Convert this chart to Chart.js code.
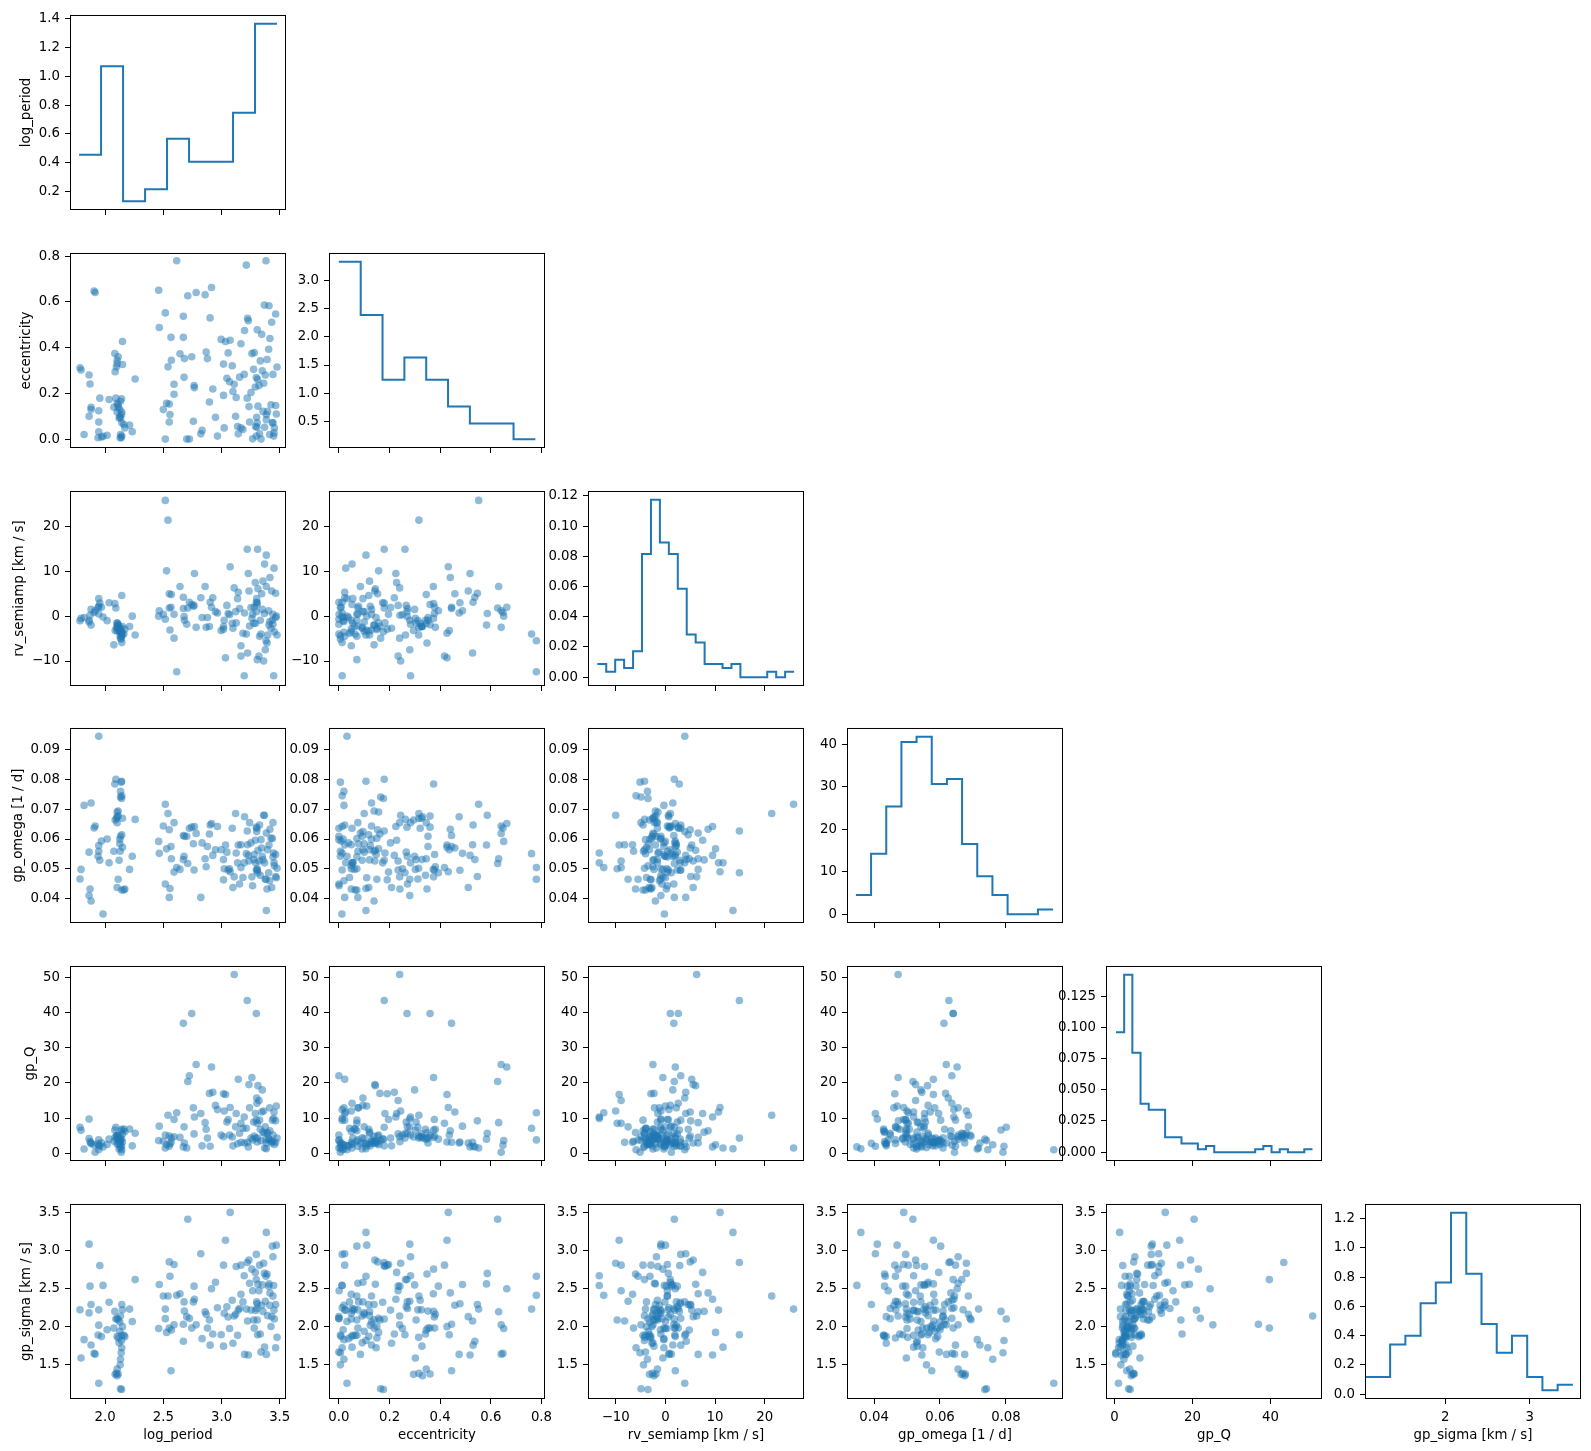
<!DOCTYPE html>
<html>
<head>
<meta charset="utf-8">
<script src="https://cdn.jsdelivr.net/npm/chart.js@4.4.0/dist/chart.umd.min.js"></script>
<style>
  body { margin: 0; background: #fff; }
  #fig { position: relative; width: 1591px; height: 1451px; overflow: hidden; }
  #fig canvas { position: absolute; }
</style>
</head>
<body>
<div id="fig"></div>
<script>
// posterior samples, one entry per draw
const logPeriod = [
  1.784, 1.793, 1.819, 1.862, 1.862, 1.870, 1.879, 1.879, 1.905, 1.914,
  1.945, 1.954, 1.945, 1.945, 1.939, 1.968, 1.982, 2.017, 2.034, 2.083,
  2.092, 2.103, 2.112, 2.086, 2.097, 2.103, 2.112, 2.103, 2.132, 2.141,
  2.143, 2.149, 2.132, 2.126, 2.126, 2.149, 2.143, 2.161, 2.169, 2.141,
  2.143, 2.138, 2.132, 2.129, 2.103, 2.075, 2.210, 2.233, 2.258, 2.120,
  2.112,
  2.460, 2.465, 2.500, 2.517, 2.517, 2.528, 2.551, 2.540, 2.557, 2.551,
  2.566, 2.569, 2.592, 2.592, 2.615, 2.643, 2.672, 2.672, 2.678, 2.681,
  2.710, 2.701, 2.724, 2.744, 2.758, 2.767, 2.764, 2.782, 2.822, 2.833,
  2.859, 2.868, 2.879, 2.896, 2.902, 2.914, 2.925, 2.948, 2.965, 2.997,
  3.017, 3.017, 3.034, 3.023, 3.046, 3.057, 3.069, 3.074, 3.092, 3.098,
  3.109, 3.121, 3.126, 3.138, 3.144, 3.155, 3.167, 3.167, 3.184, 3.195,
  3.198, 3.213, 3.221, 3.224, 3.230, 3.236, 3.241, 3.253, 3.261, 3.267,
  3.276, 3.281, 3.290, 3.293, 3.299, 3.299, 3.302, 3.304, 3.307, 3.310,
  3.313, 3.322, 3.327, 3.333, 3.339, 3.345, 3.350, 3.362, 3.368, 3.370,
  3.376, 3.385, 3.385, 3.391, 3.396, 3.405, 3.416, 3.425, 3.431, 3.437,
  3.442, 3.448, 3.451, 3.465, 3.465, 3.471, 3.477,
  3.382, 3.414, 3.442, 3.454, 3.356, 3.307, 3.408
];
const eccentricity = [
  0.312, 0.302, 0.020, 0.280, 0.100, 0.241, 0.139, 0.129, 0.648, 0.641,
  0.075, 0.179, 0.124, 0.032, 0.006, 0.009, 0.012, 0.017, 0.173, 0.374,
  0.179, 0.157, 0.139, 0.295, 0.316, 0.330, 0.360, 0.345, 0.165, 0.176,
  0.118, 0.326, 0.092, 0.129, 0.100, 0.427, 0.071, 0.064, 0.049, 0.107,
  0.013, 0.006, 0.020, 0.006, 0.118, 0.139, 0.061, 0.032, 0.263, 0.092,
  0.150,
  0.651, 0.488, 0.129, 0.000, 0.552, 0.157, 0.153, 0.316, 0.107, 0.075,
  0.445, 0.345, 0.240, 0.196, 0.780, 0.373, 0.445, 0.537, 0.270, 0.352,
  0.627, 0.000, 0.000, 0.360, 0.078, 0.225, 0.234, 0.641, 0.023, 0.038,
  0.631, 0.381, 0.352, 0.162, 0.530, 0.663, 0.219, 0.095, 0.013, 0.436,
  0.191, 0.328, 0.427, 0.049, 0.266, 0.377, 0.251, 0.432, 0.321, 0.208,
  0.240, 0.100, 0.182, 0.055, 0.023, 0.271, 0.049, 0.417, 0.042, 0.283,
  0.475, 0.761, 0.179, 0.528, 0.518, 0.142, 0.075, 0.204, 0.374, 0.001,
  0.305, 0.378, 0.228, 0.055, 0.013, 0.269, 0.095, 0.052, 0.071, 0.261,
  0.144, 0.234, 0.023, 0.342, 0.000, 0.458, 0.299, 0.244, 0.586, 0.052,
  0.280, 0.107, 0.085, 0.348, 0.121, 0.393, 0.440, 0.150, 0.511, 0.071,
  0.283, 0.013, 0.027, 0.547, 0.147, 0.110, 0.315,
  0.780, 0.020, 0.071, 0.049, 0.121, 0.478, 0.583
];
const rvSemiamp = [
  -1.0, -0.5, -0.3, -0.9, -1.3, 0.2, -2.0, 1.5, 0.8, 1.2,
  0.5, 2.9, 2.2, 3.9, 1.9, 2.0, -0.2, -1.0, 3.0, 2.8,
  1.8, -1.5, -2.0, -3.2, -2.6, -2.3, -1.9, -1.6, -4.9, -3.5,
  4.6, -2.3, -2.7, -3.1, -3.4, -3.8, -4.5, -4.0, -2.9, -4.2,
  -5.9, -5.1, -3.6, -4.4, -3.3, -6.4, -2.3, 0.0, -4.2, -2.5,
  -3.0,
  0.0, 1.2, 0.4, -0.7, 25.8, 10.1, 5.0, 21.4, -3.1, 1.8,
  2.0, 4.8, -4.9, 0.4, -12.4, 6.6, 1.7, 4.2, -0.1, -0.9,
  1.8, -1.8, 3.1, 2.6, 2.2, 9.5, 2.4, -2.5, 4.1, -0.3,
  6.6, -2.5, -0.3, -2.3, 3.1, 2.0, 4.1, 1.0, 0.7, -3.2,
  -2.9, -2.3, -9.3, -0.9, 2.4, 0.6, 0.3, 11.0, -1.6, -2.7,
  6.3, 1.0, -1.5, 3.9, 5.3, 1.7, -6.6, -8.9, -3.8, -13.3,
  0.7, -4.0, 14.9, -8.2, 9.5, 5.6, -2.2, 1.9, -0.5, 0.4,
  -1.6, 2.0, 7.5, -1.6, 3.1, 1.0, 3.9, 2.6, -9.7, 14.9,
  6.1, -8.9, -4.5, -0.9, -4.0, 5.0, 1.5, -10.0, 0.6, 11.6,
  -7.5, 13.6, 6.6, -6.0, -4.2, 1.2, 8.6, -2.7, 5.6, -0.9,
  -1.8, -13.3, 10.7, 5.1, -0.3, 0.0, -4.2,
  -5.5, -1.2, 0.4, -3.5, 7.8, 3.0, -2.0
];
const gpOmega = [
  0.0466, 0.0498, 0.0713, 0.0410, 0.0556, 0.0432, 0.0392, 0.0721, 0.0637, 0.0644,
  0.0559, 0.0529, 0.0578, 0.0945, 0.0542, 0.0593, 0.0348, 0.0600, 0.0520, 0.0785,
  0.0801, 0.0691, 0.0694, 0.0664, 0.0669, 0.0675, 0.0677, 0.0655, 0.0741, 0.0736,
  0.0614, 0.0670, 0.0609, 0.0599, 0.0584, 0.0572, 0.0429, 0.0429, 0.0432, 0.0794,
  0.0745, 0.0791, 0.0760, 0.0559, 0.0437, 0.0559, 0.0498, 0.0542, 0.0666, 0.0529,
  0.0465,
  0.0592, 0.0552, 0.0644, 0.0449, 0.0717, 0.0567, 0.0631, 0.0686, 0.0434, 0.0404,
  0.0575, 0.0534, 0.0655, 0.0489, 0.0504, 0.0498, 0.0612, 0.0531, 0.0542, 0.0609,
  0.0518, 0.0609, 0.0636, 0.0640, 0.0584, 0.0642, 0.0496, 0.0619, 0.0404, 0.0587,
  0.0534, 0.0507, 0.0575, 0.0617, 0.0647, 0.0652, 0.0545, 0.0564, 0.0642, 0.0564,
  0.0463, 0.0531, 0.0580, 0.0500, 0.0556, 0.0496, 0.0500, 0.0490, 0.0636, 0.0437,
  0.0473, 0.0686, 0.0553, 0.0520, 0.0580, 0.0449, 0.0581, 0.0504, 0.0471, 0.0520,
  0.0675, 0.0551, 0.0627, 0.0581, 0.0545, 0.0526, 0.0655, 0.0587, 0.0473, 0.0443,
  0.0531, 0.0548, 0.0596, 0.0520, 0.0496, 0.0640, 0.0625, 0.0636, 0.0500, 0.0487,
  0.0562, 0.0526, 0.0647, 0.0478, 0.0598, 0.0570, 0.0542, 0.0680, 0.0680, 0.0520,
  0.0465, 0.0360, 0.0620, 0.0432, 0.0564, 0.0487, 0.0633, 0.0603, 0.0437, 0.0602,
  0.0655, 0.0553, 0.0520, 0.0474, 0.0548, 0.0470, 0.0502,
  0.0465, 0.0460, 0.0540, 0.0510, 0.0530, 0.0495, 0.0580
];
const gpQ = [
  7.4, 6.5, 1.2, 9.7, 4.2, 3.3, 2.8, 2.9, 2.3, 0.3,
  3.8, 2.1, 2.1, 1.0, 2.7, 3.0, 1.8, 2.5, 4.0, 6.6,
  7.4, 5.2, 4.8, 4.6, 4.9, 4.3, 5.0, 3.9, 3.6, 4.0,
  6.8, 5.5, 4.4, 3.8, 2.9, 3.2, 6.4, 6.9, 6.2, 2.0,
  1.0, 0.3, 2.4, 1.6, 2.6, 3.4, 6.9, 2.1, 5.7, 1.2,
  2.8,
  3.6, 7.7, 3.4, 5.2, 1.5, 2.4, 4.9, 10.8, 2.7, 2.0,
  3.1, 4.3, 4.7, 9.6, 11.5, 4.5, 36.9, 1.8, 7.5, 2.9,
  20.4, 1.5, 22.0, 39.7, 12.9, 10.3, 5.5, 25.2, 11.3, 2.1,
  8.7, 6.8, 4.3, 17.0, 2.0, 24.5, 17.3, 13.6, 12.4, 5.2,
  16.9, 4.7, 16.7, 12.0, 8.9, 9.6, 5.2, 13.0, 4.6, 2.1,
  50.8, 7.5, 11.3, 2.7, 21.0, 5.7, 3.1, 8.5, 7.1, 10.3,
  2.9, 7.1, 43.4, 3.1, 1.8, 19.5, 12.9, 4.3, 21.5, 3.8,
  8.9, 4.9, 11.3, 4.3, 9.4, 39.7, 15.7, 14.2, 8.5, 4.3,
  19.2, 15.0, 9.4, 6.8, 3.6, 11.7, 18.0, 12.0, 5.7, 1.5,
  7.5, 1.3, 2.9, 5.9, 5.7, 4.0, 6.4, 3.4, 2.9, 9.4,
  5.2, 9.9, 11.7, 9.2, 3.1, 13.4, 4.3,
  3.8, 12.9, 3.4, 2.5, 6.0, 3.2, 4.0
];
const gpSigma = [
  2.22, 1.59, 1.83, 3.08, 2.18, 2.53, 2.29, 1.76, 1.65, 1.64,
  2.22, 2.80, 2.02, 1.26, 1.89, 1.87, 2.54, 1.96, 2.32, 2.20,
  2.10, 2.11, 2.09, 1.376, 1.388, 1.358, 1.380, 1.444, 1.187, 1.178,
  2.29, 2.22, 2.14, 2.06, 1.94, 2.00, 1.886, 1.886, 1.869, 1.818,
  1.723, 1.659, 1.573, 1.500, 1.873, 1.981, 2.230, 2.067, 2.616, 1.788,
  1.852,
  1.976, 2.552, 2.401, 2.105, 2.230, 1.925, 2.848, 2.401, 2.659, 1.981,
  1.423, 1.955, 2.024, 2.813, 2.410, 2.431, 2.032, 1.809, 2.324, 2.204,
  3.406, 2.131, 2.109, 1.981, 2.324, 2.358, 2.530, 2.024, 2.955, 1.843,
  2.195, 2.161, 1.981, 2.088, 1.758, 2.496, 1.903, 2.582, 2.247, 1.895,
  2.805, 1.745, 3.131, 2.174, 2.260, 2.127, 1.976, 3.496, 2.345, 1.783,
  2.140, 2.161, 2.788, 1.886, 2.217, 2.238, 2.423, 2.805, 2.324, 2.667,
  1.637, 2.230, 2.839, 2.075, 1.629, 2.873, 2.569, 2.217, 2.753, 2.470,
  2.088, 1.981, 2.710, 2.212, 2.946, 2.616, 2.324, 2.238, 2.088, 1.895,
  2.556, 2.470, 2.805, 1.903, 1.667, 2.281, 2.547, 2.831, 2.697, 1.732,
  2.333, 3.234, 1.637, 2.689, 2.144, 2.530, 2.442, 2.002, 2.131, 3.054,
  2.916, 2.539, 2.217, 2.290, 1.723, 3.067, 1.860,
  2.660, 2.280, 2.400, 2.100, 2.200, 2.300, 2.560
];

// marginal histograms (bin edges + density)
const logPeriodHistEdges = [1.776, 1.965, 2.154, 2.343, 2.532, 2.721, 2.910, 3.099, 3.288, 3.477];
const logPeriodHistDensity = [0.455, 1.070, 0.134, 0.216, 0.566, 0.407, 0.407, 0.748, 1.364];
const eccHistEdges = [0, 0.0862, 0.1724, 0.2587, 0.3449, 0.4311, 0.5173, 0.6036, 0.6898, 0.776];
const eccHistDensity = [3.324, 2.386, 1.239, 1.633, 1.239, 0.769, 0.468, 0.468, 0.19];
const rvHistEdges = [-13.7, -11.9, -10.1, -8.3, -6.5, -4.7, -2.9, -1.1, 0.7, 2.5, 4.3, 6.1,
  7.9, 9.7, 11.5, 13.3, 15.1, 16.9, 18.7, 20.5, 22.3, 24.1, 25.9];
const rvHistDensity = [0.0087, 0.0035, 0.0115, 0.0061, 0.0171, 0.0816, 0.1174, 0.0892, 0.0816,
  0.0586, 0.0282, 0.023, 0.0087, 0.0087, 0.0061, 0.0087, 0, 0, 0, 0.0035, 0, 0.0035];
const omegaHistEdges = [0.0345, 0.0391, 0.0437, 0.0483, 0.0529, 0.0575, 0.0621, 0.0667,
  0.0713, 0.0759, 0.0805, 0.0851, 0.0897, 0.0943];
const omegaHistDensity = [4.5, 14.2, 25.3, 40.5, 41.7, 30.6, 31.8, 16.5, 8.9, 4.5, 0, 0, 1.1];
const qHistEdges = [0.36, 2.46, 4.56, 6.66, 8.76, 10.86, 12.96, 15.06, 17.16, 19.26, 21.36, 23.46,
  25.56, 27.66, 29.76, 31.86, 33.96, 36.06, 38.16, 40.26, 42.36, 44.46, 46.56, 48.66, 50.76];
const qHistDensity = [0.096, 0.142, 0.0796, 0.0388, 0.034, 0.034, 0.012, 0.012, 0.007, 0.007,
  0.0024, 0.005, 0, 0, 0, 0, 0, 0.0024, 0.005, 0, 0.0024, 0, 0, 0.0024];
const sigmaHistEdges = [1.0, 1.35, 1.53, 1.71, 1.89, 2.07, 2.25, 2.43, 2.61, 2.79, 2.97, 3.15, 3.33, 3.51];
const sigmaHistDensity = [0.117, 0.339, 0.399, 0.621, 0.763, 1.240, 0.823, 0.480, 0.283, 0.399, 0.117, 0.027, 0.063];

// axis limits and ticks
const logPeriodLimits = [1.698, 3.554];
const eccLimits = [-0.039, 0.814];
const rvLimits = [-15.57, 27.9];
const omegaLimits = [0.0318, 0.0973];
const qLimits = [-2.2, 53.2];
const sigmaLimits = [1.053, 3.606];

const logPeriodTicks = [2.0, 2.5, 3.0, 3.5];
const eccTicks = [0, 0.2, 0.4, 0.6, 0.8];
const rvTicks = [-10, 0, 10, 20];
const omegaXTicks = [0.04, 0.06, 0.08];
const omegaYTicks = [0.04, 0.05, 0.06, 0.07, 0.08, 0.09];
const qXTicks = [0, 20, 40];
const qYTicks = [0, 10, 20, 30, 40, 50];
const sigmaXTicks = [2, 3];
const sigmaYTicks = [1.5, 2.0, 2.5, 3.0, 3.5];

const logPeriodHistTicks = [0.2, 0.4, 0.6, 0.8, 1.0, 1.2, 1.4];
const eccHistTicks = [0.5, 1.0, 1.5, 2.0, 2.5, 3.0];
const rvHistTicks = [0, 0.02, 0.04, 0.06, 0.08, 0.10, 0.12];
const omegaHistTicks = [0, 10, 20, 30, 40];
const qHistTicks = [0, 0.025, 0.05, 0.075, 0.1, 0.125];
const sigmaHistTicks = [0, 0.2, 0.4, 0.6, 0.8, 1.0, 1.2];

const fmt = d => v => v.toFixed(d).replace('-', '\u2212');

const params = [
  { label: 'log_period', values: logPeriod, lim: logPeriodLimits,
    xTicks: logPeriodTicks, xFmt: fmt(1), yTicks: logPeriodTicks, yFmt: fmt(1), titlePad: 18.6,
    hist: { edges: logPeriodHistEdges, dens: logPeriodHistDensity, ticks: logPeriodHistTicks, fmt: fmt(1) } },
  { label: 'eccentricity', values: eccentricity, lim: eccLimits,
    xTicks: eccTicks, xFmt: fmt(1), yTicks: eccTicks, yFmt: fmt(1), titlePad: 18.6,
    hist: { edges: eccHistEdges, dens: eccHistDensity, ticks: eccHistTicks, fmt: fmt(1) } },
  { label: 'rv_semiamp [km / s]', values: rvSemiamp, lim: rvLimits,
    xTicks: rvTicks, xFmt: fmt(0), yTicks: rvTicks, yFmt: fmt(0), titlePad: 11.7,
    hist: { edges: rvHistEdges, dens: rvHistDensity, ticks: rvHistTicks, fmt: fmt(2) } },
  { label: 'gp_omega [1 / d]', values: gpOmega, lim: omegaLimits,
    xTicks: omegaXTicks, xFmt: fmt(2), yTicks: omegaYTicks, yFmt: fmt(2), titlePad: 10.2,
    hist: { edges: omegaHistEdges, dens: omegaHistDensity, ticks: omegaHistTicks, fmt: fmt(0) } },
  { label: 'gp_Q', values: gpQ, lim: qLimits,
    xTicks: qXTicks, xFmt: fmt(0), yTicks: qYTicks, yFmt: fmt(0), titlePad: 22.9,
    hist: { edges: qHistEdges, dens: qHistDensity, ticks: qHistTicks, fmt: fmt(3) } },
  { label: 'gp_sigma [km / s]', values: gpSigma, lim: sigmaLimits,
    xTicks: sigmaXTicks, xFmt: fmt(0), yTicks: sigmaYTicks, yFmt: fmt(1), titlePad: 18.6,
    hist: { edges: sigmaHistEdges, dens: sigmaHistDensity, ticks: sigmaHistTicks, fmt: fmt(1) } }
];

// layout of the grid (pixels)
const colLeft = [70, 329, 588, 847, 1106, 1365];
const rowTop = [12, 250, 488, 725, 963, 1201];
const PW = 216, PH = 198, YAXIS_W = 70, PAD_T = 10, PAD_R = 14;
const XAXIS_H = 14, XAXIS_H_BOTTOM = 52;

const FONT = { family: 'DejaVu Sans', size: 13.3 };
const BLUE = '#1f77b4';
const DOT = 'rgba(31, 119, 180, 0.5)';

Chart.defaults.font.family = FONT.family;
Chart.defaults.font.size = FONT.size;
Chart.defaults.color = '#000';

// black box around every panel
const framePlugin = {
  id: 'frame',
  afterDraw(chart) {
    const { ctx, chartArea: a } = chart;
    ctx.save();
    ctx.strokeStyle = '#000';
    ctx.lineWidth = 1;
    ctx.strokeRect(a.left + 0.5, a.top + 0.5, a.right - a.left - 1, a.bottom - a.top - 1);
    ctx.restore();
  }
};
Chart.register(framePlugin);

function makeAxis(pos, lim, ticks, format, showLabels, size, title, titlePad) {
  const isX = pos === 'bottom';
  return {
    type: 'linear',
    position: pos,
    min: lim[0],
    max: lim[1],
    afterBuildTicks: s => { s.ticks = ticks.map(v => ({ value: v })); },
    afterFit: s => { if (isX) s.height = size; else s.width = size; },
    ticks: {
      autoSkip: false, maxRotation: 0, minRotation: 0, padding: isX ? 6 : 5,
      color: '#000', font: FONT,
      callback: v => showLabels ? format(v) : ''
    },
    grid: {
      display: true, drawOnChartArea: false, drawTicks: true, tickLength: 5,
      color: '#000', tickColor: '#000', tickWidth: 1, lineWidth: 1
    },
    border: { display: false },
    title: title
      ? { display: true, text: title, color: '#000', font: FONT,
          padding: isX ? { top: 0, bottom: titlePad } : { top: titlePad, bottom: 0 } }
      : { display: false }
  };
}

const fig = document.getElementById('fig');

for (let r = 0; r < params.length; r++) {
  for (let c = 0; c <= r; c++) {
    const px = params[c], py = params[r];
    const bottomRow = r === params.length - 1;
    const xh = bottomRow ? XAXIS_H_BOTTOM : XAXIS_H;
    const w = YAXIS_W + PW + PAD_R, h = PAD_T + PH + xh;

    const canvas = document.createElement('canvas');
    canvas.width = w; canvas.height = h;
    canvas.style.left = (colLeft[c] - YAXIS_W) + 'px';
    canvas.style.top = (rowTop[r] - PAD_T) + 'px';
    canvas.style.width = w + 'px'; canvas.style.height = h + 'px';
    fig.appendChild(canvas);

    let dataset, yAxis;
    if (r === c) {
      const hst = px.hist;
      const lo = Math.min(...hst.dens), hi = Math.max(...hst.dens), span = hi - lo;
      dataset = {
        data: hst.edges.map((e, i) => ({ x: e, y: hst.dens[Math.min(i, hst.dens.length - 1)] })),
        showLine: true, stepped: true, borderColor: BLUE, borderWidth: 2,
        pointRadius: 0, fill: false
      };
      yAxis = makeAxis('left', [lo - 0.05 * span, hi + 0.05 * span], hst.ticks, hst.fmt, true,
        YAXIS_W, c === 0 ? py.label : null, py.titlePad);
    } else {
      dataset = {
        data: px.values.map((x, i) => ({ x: x, y: py.values[i] })),
        showLine: false, pointRadius: 3.8, pointBackgroundColor: DOT,
        pointBorderWidth: 0, pointBorderColor: 'rgba(0,0,0,0)'
      };
      yAxis = makeAxis('left', py.lim, py.yTicks, py.yFmt, true,
        YAXIS_W, c === 0 ? py.label : null, py.titlePad);
    }
    const xAxis = makeAxis('bottom', px.lim, px.xTicks, px.xFmt, bottomRow,
      xh, bottomRow ? px.label : null, 7);

    new Chart(canvas, {
      type: 'scatter',
      data: { datasets: [dataset] },
      options: {
        responsive: false,
        maintainAspectRatio: false,
        devicePixelRatio: 1,
        animation: false,
        events: [],
        layout: { padding: { top: PAD_T, right: PAD_R, bottom: 0, left: 0 } },
        plugins: { legend: { display: false }, tooltip: { enabled: false } },
        scales: { x: xAxis, y: yAxis }
      }
    });
  }
}
</script>
</body>
</html>
